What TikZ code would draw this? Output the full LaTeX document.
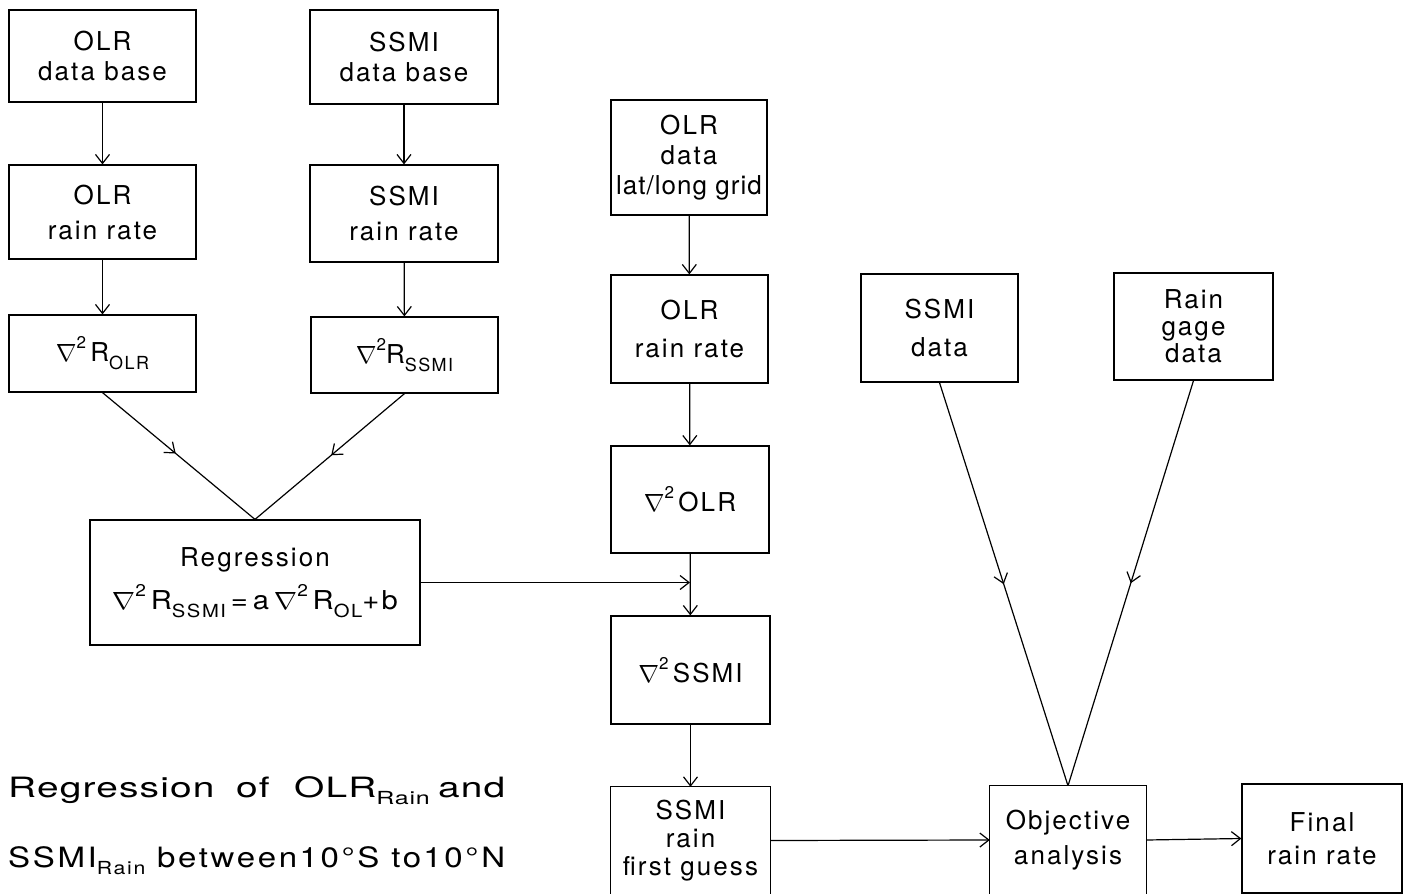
\documentclass[tikz,border=0pt]{standalone}
\usepackage{fontspec}
\usepackage{graphicx}
\setmainfont{TeX Gyre Heros}[LetterSpace=8]
\usetikzlibrary{arrows.meta,decorations.markings}
\newcommand{\lowtext}[1]{\raisebox{-0.3em}{\fontsize{18}{18}\selectfont #1}}
\newcommand{\captsub}[1]{\raisebox{-0.25em}{\fontsize{18}{18}\selectfont #1}}
\newcommand{\nabsq}{{\fontsize{28}{28}\selectfont$\nabla$}\raisebox{0.5em}{\fontsize{17}{17}\selectfont 2}}
\tikzset{
  box/.style={draw, line width=1.2pt, inner sep=0pt, align=center, font=\fontsize{26}{30}\selectfont},
  openbox/.style={inner sep=0pt, align=center, font=\fontsize{26}{30}\selectfont},
  ln/.style={line width=1.2pt},
  arr/.style={line width=1.2pt, -{Straight Barb[length=9pt,width=14pt,line width=1.2pt]}},
  midarr/.style={line width=1.2pt, decoration={markings, mark=at position #1 with {\arrow{Straight Barb[length=9pt,width=14pt,line width=1.2pt]}}}, postaction={decorate}},
  captext/.style={anchor=base west, inner sep=0pt, font=\fontsize{28}{34}\selectfont}
}
\begin{document}
\begin{tikzpicture}[x=1pt,y=-1pt]
\useasboundingbox (0,0) rectangle (1409,894);
% left column
\node[box, minimum width=187pt, minimum height=92pt] (A1) at (102.5,56) {OLR\\data base};
\node[box, minimum width=187pt, minimum height=94pt] (A2) at (102.5,212) {OLR\\[5pt]rain rate};
\node[box, minimum width=187pt, minimum height=77pt] (A3) at (102.5,353.5) {\nabsq\,R\lowtext{OLR}};
% second column
\node[box, minimum width=188pt, minimum height=94pt] (B1) at (404,57) {SSMI\\data base};
\node[box, minimum width=188pt, minimum height=97pt] (B2) at (404,213.5) {SSMI\\[5pt]rain rate};
\node[box, minimum width=187pt, minimum height=76pt] (B3) at (404.5,355) {\nabsq R\lowtext{SSMI}};
% regression
\node[box, minimum width=330pt, minimum height=125pt] (Reg) at (255,582.5) {Regression\\[12pt]\resizebox{286pt}{\height}{\nabsq\,R\lowtext{SSMI}\,=\,a\,\nabsq\,R\lowtext{OL}+b}};
% middle column
\node[box, minimum width=156pt, minimum height=115pt] (C1) at (689,157.5) {OLR\\data\\{\addfontfeatures{LetterSpace=4}lat/long grid}};
\node[box, minimum width=157pt, minimum height=108pt] (C2) at (689.5,329) {OLR\\[8pt]rain rate};
\node[box, minimum width=158pt, minimum height=107pt] (C3) at (690,499.5) {\nabsq\,OLR};
\node[box, minimum width=159pt, minimum height=108pt] (C4) at (690.5,670) {\nabsq\,SSMI};
\node[openbox, minimum width=159pt, minimum height=107pt] (C5) at (690.5,840.5) {SSMI\\[-2pt]rain\\[-2pt]first guess};
\draw[ln] (C5.south west) -- (C5.north west) -- (C5.north east) -- (C5.south east);
% right side
\node[box, minimum width=157pt, minimum height=108pt] (D1) at (939.5,328) {SSMI\\[8pt]data};
\node[box, minimum width=159pt, minimum height=107pt] (D2) at (1193.5,326.5) {Rain\\[-3pt]gage\\[-3pt]data};
\node[openbox, minimum width=156pt, minimum height=108pt] (Obj) at (1068,840) {Objective\\[5pt]analysis};
\draw[ln] (Obj.south west) -- (Obj.north west) -- (Obj.north east) -- (Obj.south east);
\node[box, minimum width=160pt, minimum height=109pt] (Fin) at (1322,838.5) {Final\\[3pt]rain rate};
% caption
\node[captext] (T1) at (8,797) {\resizebox{497pt}{\height}{\addfontfeatures{LetterSpace=3}Regression\hspace{7pt} of\hspace{9pt} OLR\captsub{Rain}\hspace{6pt}and}};
\node[captext] (T2) at (8,867) {\resizebox{497pt}{\height}{SSMI\captsub{Rain} between\hspace{2pt}10°S to\hspace{2pt}10°N}};
% connectors
\draw[arr] (A1) -- (A2);
\draw[arr] (A2) -- (A3);
\draw[arr] (B1) -- (B2);
\draw[arr] (B2) -- (B3);
\draw[midarr=0.48] (A3.south) -- (Reg.north);
\draw[midarr=0.49] (B3.south) -- (Reg.north);
\draw[arr] (C1) -- (C2);
\draw[arr] (C2) -- (C3);
\draw[arr] (C3) -- (C4);
\draw[arr] (C4) -- (C5.north);
\coordinate (J) at (C3.south |- Reg.east);
\draw[arr] (Reg.east) -- (J);
\draw[midarr=0.5] (D1.south) -- (Obj.north);
\draw[midarr=0.5] (D2.south) -- (Obj.north);
\draw[arr] (C5.east) -- (Obj.west);
\draw[arr] (Obj.east) -- (Fin.west);
\end{tikzpicture}
\end{document}
